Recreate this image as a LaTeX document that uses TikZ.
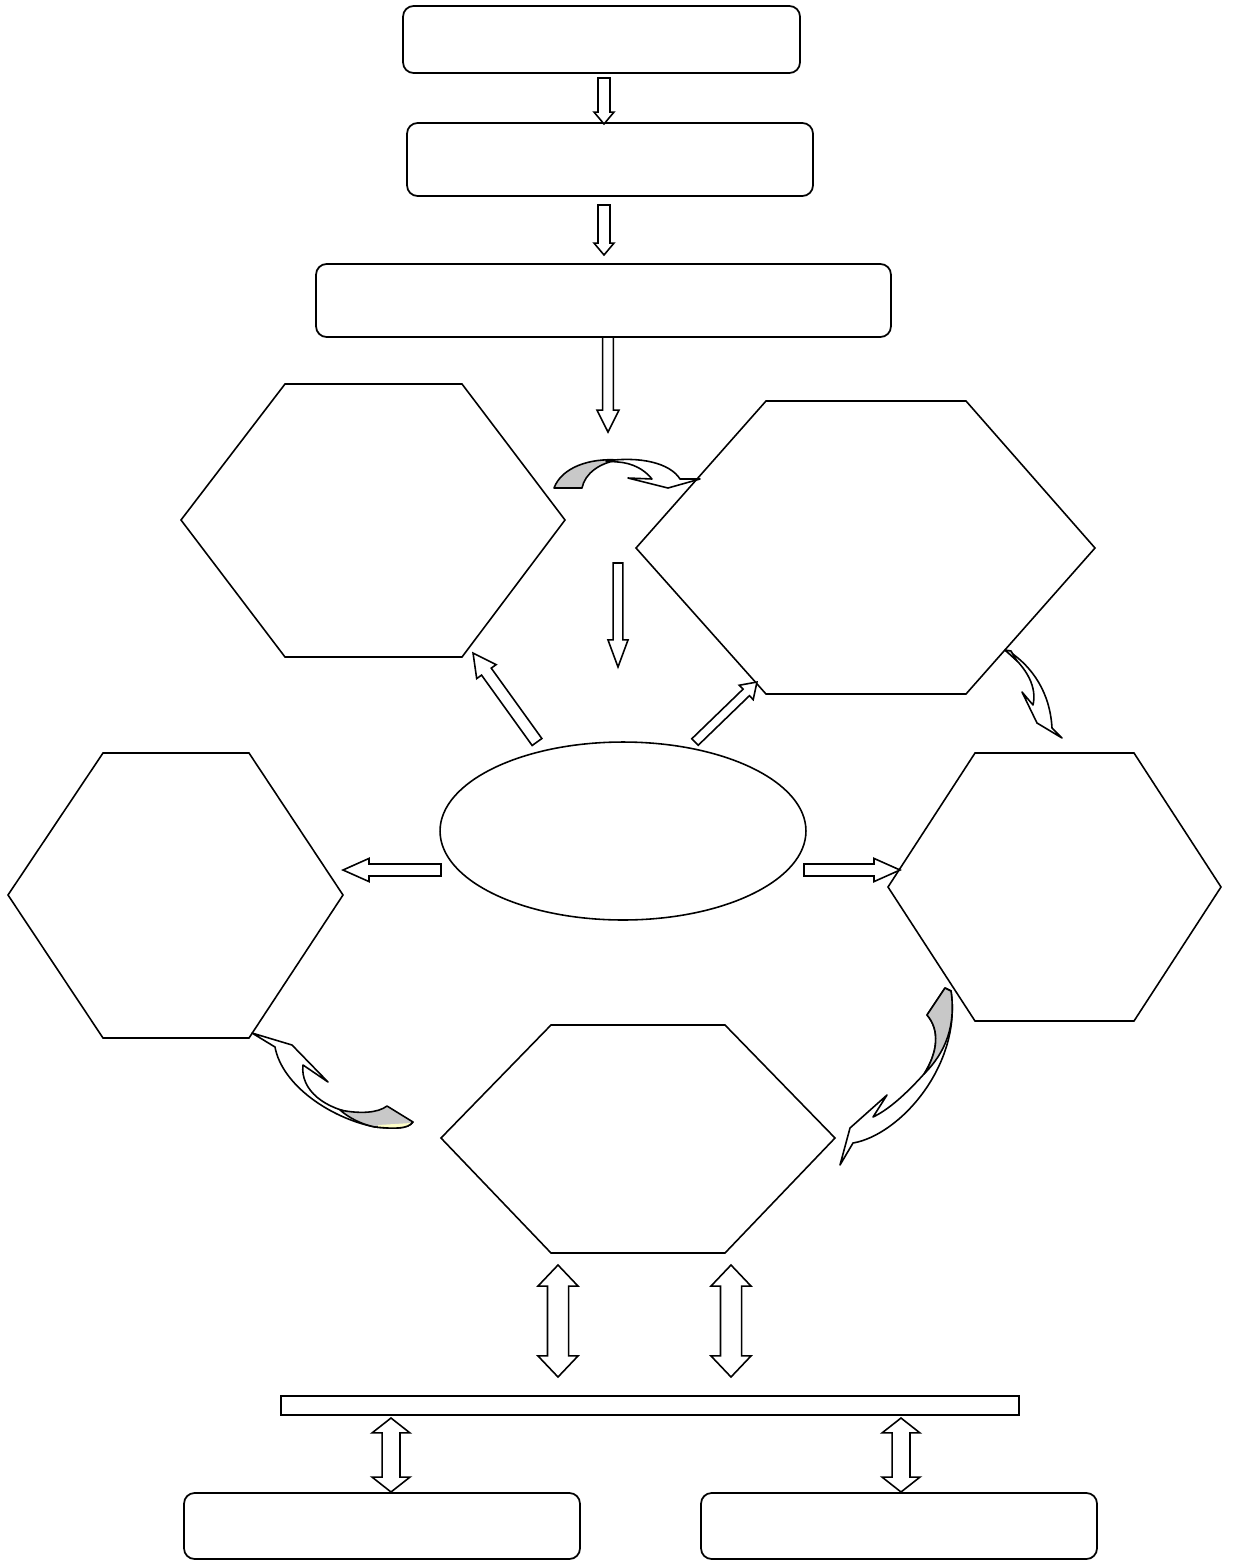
\documentclass[tikz,border=0pt]{standalone}
\usepackage{tikz}
\usetikzlibrary{shapes.geometric,calc}

\definecolor{ribbonback}{RGB}{200,200,200}
\definecolor{ribbonlight}{RGB}{255,255,200}

\tikzset{
  box/.style={draw, rounded corners=6pt, line width=1pt, inner sep=0pt},
  hexa/.style={draw, line width=0.9pt, line join=miter},
  blockarrow/.style={draw, fill=white, line width=0.9pt, line join=miter},
  ribbon/.style={draw, fill=white, line width=0.9pt, line join=round},
}

% hollow block arrow: start, end, half shaft, half head, head length (pt)
\newcommand{\blkarr}[5]{%
  \draw[blockarrow] let \p1=(#1), \p2=(#2),
      \n1={atan2(\y2-\y1,\x2-\x1)}, \n2={veclen(\x2-\x1,\y2-\y1)} in
    [shift={(\p1)}, rotate=\n1]
    (0pt,-#3pt) -- (\n2-#5pt,-#3pt) -- (\n2-#5pt,-#4pt) -- (\n2,0pt)
    -- (\n2-#5pt,#4pt) -- (\n2-#5pt,#3pt) -- (0pt,#3pt) -- cycle;}

% hollow double block arrow
\newcommand{\dblarr}[5]{%
  \draw[blockarrow] let \p1=(#1), \p2=(#2),
      \n1={atan2(\y2-\y1,\x2-\x1)}, \n2={veclen(\x2-\x1,\y2-\y1)} in
    [shift={(\p1)}, rotate=\n1]
    (0pt,0pt) -- (#5pt,#4pt) -- (#5pt,#3pt) -- (\n2-#5pt,#3pt) -- (\n2-#5pt,#4pt)
    -- (\n2,0pt) -- (\n2-#5pt,-#4pt) -- (\n2-#5pt,-#3pt) -- (#5pt,-#3pt)
    -- (#5pt,-#4pt) -- cycle;}

\begin{document}
\begin{tikzpicture}[x=0.02cm, y=-0.02cm]
    \useasboundingbox (0,0) rectangle (1234,1562);

    % boxes
    \node[box, minimum width=7.94cm, minimum height=1.34cm] (first) at (601.5,39.5) {};
    \node[box, minimum width=8.12cm, minimum height=1.46cm] (second) at (610,159.5) {};
    \node[box, minimum width=11.5cm, minimum height=1.46cm] (third) at (603.5,300.5) {};
    \node[draw, line width=1pt, inner sep=0pt, minimum width=14.76cm, minimum height=0.38cm] (bar) at (650,1405.5) {};
    \node[box, minimum width=7.92cm, minimum height=1.32cm] (leftbox) at (382,1526) {};
    \node[box, minimum width=7.92cm, minimum height=1.32cm] (rightbox) at (899,1526) {};
    \node[draw, ellipse, line width=0.9pt, inner sep=0pt, minimum width=7.32cm, minimum height=3.56cm] (core) at (623,831) {};

    % hexagons
    \draw[hexa] (181,520) -- (285,384) -- (462,384) -- (565,520) -- (462,657) -- (285,657) -- cycle;
    \draw[hexa] (636,548) -- (766,401) -- (966,401) -- (1095,548) -- (966,694) -- (766,694) -- cycle;
    \draw[hexa] (8,895) -- (103,753) -- (249,753) -- (343,895) -- (249,1038) -- (103,1038) -- cycle;
    \draw[hexa] (888,887) -- (975,753) -- (1134,753) -- (1221,887) -- (1134,1021) -- (975,1021) -- cycle;
    \draw[hexa] (441,1138) -- (551,1025) -- (725,1025) -- (835,1138) -- (725,1253) -- (551,1253) -- cycle;

    % arrow ends
    \coordinate (a1s) at (604,78);   \coordinate (a1e) at (604,124);
    \coordinate (a2s) at (604,205);  \coordinate (a2e) at (604,255);
    \coordinate (a3s) at (608,337);  \coordinate (a3e) at (608,432);
    \coordinate (a4s) at (618,563);  \coordinate (a4e) at (618,667);
    \coordinate (a5s) at (537,742);  \coordinate (a5e) at (473,653);
    \coordinate (a6s) at (695,742);  \coordinate (a6e) at (757,682);
    \coordinate (a7s) at (441,870);  \coordinate (a7e) at (343,870);
    \coordinate (a8s) at (804,870);  \coordinate (a8e) at (900,870);
    \coordinate (d1s) at (558,1265); \coordinate (d1e) at (558,1377);
    \coordinate (d2s) at (731,1265); \coordinate (d2e) at (731,1377);
    \coordinate (d3s) at (391,1418); \coordinate (d3e) at (391,1492);
    \coordinate (d4s) at (901,1418); \coordinate (d4e) at (901,1492);

    \blkarr{a1s}{a1e}{3.4}{5.7}{6.8}
    \blkarr{a2s}{a2e}{3.4}{5.7}{6.8}
    \blkarr{a3s}{a3e}{3.1}{6.3}{12.5}
    \blkarr{a4s}{a4e}{2.8}{5.7}{15.4}
    \blkarr{a5s}{a5e}{3.4}{6.8}{13}
    \blkarr{a6s}{a6e}{2.6}{5.7}{8.5}
    \blkarr{a7s}{a7e}{3.4}{6.6}{14.8}
    \blkarr{a8s}{a8e}{3.4}{6.6}{14.8}
    \dblarr{d1s}{d1e}{6}{11.4}{12}
    \dblarr{d2s}{d2e}{6}{11.4}{12}
    \dblarr{d3s}{d3e}{5.1}{10.8}{8.5}
    \dblarr{d4s}{d4e}{5.1}{10.8}{8.5}

    % curved ribbon arrows
    \draw[ribbon, fill=ribbonback] (554,488) .. controls (562,467) and (590,458) .. (618,460)
        .. controls (600,463) and (585,473) .. (582,488) -- cycle;
    \draw[ribbon] (606,461) .. controls (640,456) and (670,463) .. (680,479) -- (700,479) -- (668,488)
        -- (628,478) -- (652,479) .. controls (644,469) and (632,463) .. (618,462) -- cycle;

    \draw[ribbon] (1005,650) .. controls (1028,668) and (1037,688) .. (1033,705) -- (1022,692) -- (1037,723)
        -- (1062,738) -- (1052,728) .. controls (1050,692) and (1032,667) .. (1010,652) -- cycle;
    \draw[ribbon, fill=ribbonback] (1005,650) -- (1011,651) -- (1017,661) -- cycle;

    \draw[ribbon] (252,1033) -- (292,1045) -- (328,1082) -- (303,1065) .. controls (300,1090) and (325,1110) .. (360,1114)
        -- (375,1127) .. controls (330,1118) and (282,1085) .. (275,1047) -- cycle;
    \draw[ribbon, fill=ribbonback] (340,1110) .. controls (360,1114) and (378,1113) .. (387,1106) -- (413,1122)
        .. controls (408,1129) and (395,1129) .. (375,1127) .. controls (360,1124) and (348,1117) .. (340,1110) -- cycle;
    \fill[ribbonlight] (378,1125) -- (411,1123) .. controls (407,1129) and (395,1129) .. (378,1127) -- cycle;
    \draw[line width=0.9pt] (413,1122) .. controls (408,1129) and (395,1129) .. (375,1127);

    \draw[ribbon] (873,1117) -- (887,1095) -- (850,1128) -- (840,1165) -- (853,1143)
        .. controls (900,1135) and (962,1065) .. (951,991) -- (945,988) -- (927,1015)
        .. controls (940,1030) and (938,1052) .. (924,1074) .. controls (905,1095) and (888,1110) .. (873,1117) -- cycle;
    \draw[ribbon, fill=ribbonback] (927,1015) -- (945,988) -- (951,991) .. controls (956,1025) and (946,1052) .. (924,1074)
        .. controls (938,1052) and (940,1030) .. (927,1015) -- cycle;
\end{tikzpicture}
\end{document}
